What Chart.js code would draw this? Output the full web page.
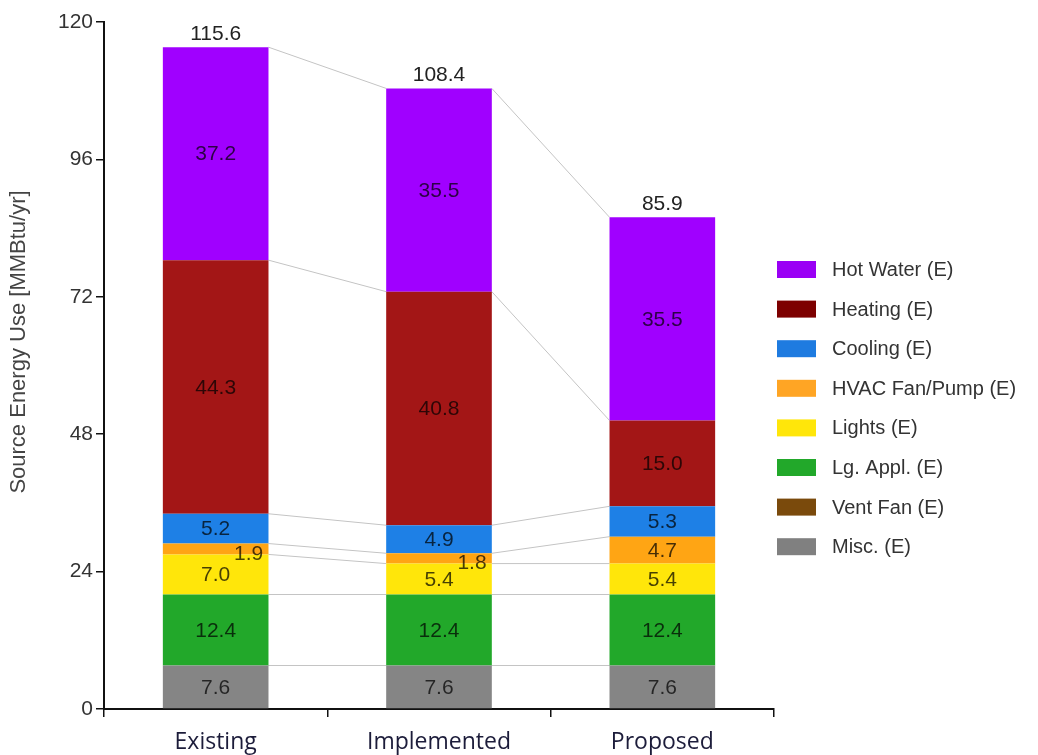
<!DOCTYPE html>
<html><head><meta charset="utf-8">
<script src="https://cdn.jsdelivr.net/npm/chart.js@4.4.1/dist/chart.umd.min.js"></script>
<style>html,body{margin:0;padding:0;background:#fff;overflow:hidden}#wrap{width:1038px;height:755px}</style>
</head><body><div id="wrap"><canvas id="c" width="1038" height="755"></canvas></div>
<script>
const categories = ['Existing', 'Implemented', 'Proposed'];
const seriesNames = ['Misc. (E)', 'Vent Fan (E)', 'Lg. Appl. (E)', 'Lights (E)', 'HVAC Fan/Pump (E)', 'Cooling (E)', 'Heating (E)', 'Hot Water (E)'];
const misc = [7.6, 7.6, 7.6];
const ventFan = [0, 0, 0];
const lgAppl = [12.4, 12.4, 12.4];
const lights = [7.0, 5.4, 5.4];
const hvacFanPump = [1.9, 1.8, 4.7];
const cooling = [5.2, 4.9, 5.3];
const heating = [44.3, 40.8, 15.0];
const hotWater = [37.2, 35.5, 35.5];
const totals = [115.6, 108.4, 85.9];
const yTicks = [0, 24, 48, 72, 96, 120];
const yAxisTitle = 'Source Energy Use [MMBtu/yr]';

const seriesValues = [misc, ventFan, lgAppl, lights, hvacFanPump, cooling, heating, hotWater];
const seriesColors = ['#858585', '#7a4a0c', '#22a82a', '#ffe60a', '#ffa514', '#1e80e6', '#a31616', '#a000ff'];
const legendColors = ['#808080', '#7a4a0c', '#22a82a', '#ffe60a', '#ffa524', '#1e7be0', '#7d0000', '#9a00f5'];

const FONT = 'Liberation Sans, Arial, sans-serif';

const overlay = {
  id: 'overlay',
  beforeDatasetsDraw(chart) {
    const ctx = chart.ctx;
    ctx.save();
    ctx.strokeStyle = '#c4c4c4';
    ctx.lineWidth = 1;
    chart.data.datasets.forEach((ds, di) => {
      const meta = chart.getDatasetMeta(di);
      for (let i = 0; i < meta.data.length - 1; i++) {
        const a = meta.data[i], b = meta.data[i + 1];
        ctx.beginPath();
        ctx.moveTo(a.x + a.width / 2, a.y);
        ctx.lineTo(b.x - b.width / 2, b.y);
        ctx.stroke();
      }
    });
    ctx.restore();
  },
  afterDraw(chart) {
    const ctx = chart.ctx;
    ctx.save();
    // segment labels
    ctx.font = '21px ' + FONT;
    ctx.textAlign = 'center';
    ctx.textBaseline = 'middle';
    chart.data.datasets.forEach((ds, di) => {
      const meta = chart.getDatasetMeta(di);
      meta.data.forEach((bar, i) => {
        const v = ds.data[i];
        if (!v) return;
        let x = bar.x, y = (bar.y + bar.base) / 2;
        if (Math.abs(bar.base - bar.y) < 16) { x += 33; y += 4; }
        ctx.fillStyle = 'rgba(0,0,0,0.72)';
        ctx.fillText(v.toFixed(1), x, y + 1);
      });
    });
    // totals
    const topMeta = chart.getDatasetMeta(chart.data.datasets.length - 1);
    ctx.fillStyle = '#222';
    topMeta.data.forEach((bar, i) => {
      ctx.fillText(totals[i].toFixed(1), bar.x, bar.y - 13);
    });
    // legend (reverse order)
    ctx.textAlign = 'left';
    ctx.font = '20px ' + FONT;
    const n = seriesNames.length;
    for (let k = 0; k < n; k++) {
      const si = n - 1 - k;
      const by = 261 + k * 39.6;
      ctx.fillStyle = legendColors[si];
      ctx.fillRect(777, by, 39, 17);
      ctx.fillStyle = '#333';
      ctx.fillText(seriesNames[si], 832, by + 9.5);
    }
    // y axis title
    ctx.translate(19, 342);
    ctx.rotate(-Math.PI / 2);
    ctx.textAlign = 'center';
    ctx.font = '22px ' + FONT;
    ctx.fillStyle = '#444';
    ctx.fillText(yAxisTitle, 0, 0);
    ctx.restore();
  }
};

new Chart(document.getElementById('c'), {
  type: 'bar',
  data: {
    labels: categories,
    datasets: seriesNames.map((name, i) => ({
      label: name,
      data: seriesValues[i],
      backgroundColor: seriesColors[i],
      borderWidth: 0,
      barPercentage: 0.473,
      categoryPercentage: 1,
      stack: 's'
    }))
  },
  options: {
    responsive: false,
    animation: false,
    devicePixelRatio: 1,
    layout: { padding: { left: 0, right: 264, top: 22, bottom: 0 } },
    plugins: { legend: { display: false }, tooltip: { enabled: false } },
    scales: {
      x: {
        stacked: true,
        afterFit: s => { s.height = 46; },
        grid: { display: true, drawOnChartArea: false, drawTicks: true, tickLength: 8, color: '#111', lineWidth: 1.5, offset: true },
        border: { display: true, color: '#111', width: 2 },
        ticks: { font: { family: 'Open Sans', size: 23 }, color: '#1c1c3a', padding: 12 }
      },
      y: {
        stacked: true,
        min: 0, max: 120,
        afterFit: s => { s.width = 104; },
        afterBuildTicks: s => { s.ticks = yTicks.map(v => ({ value: v })); },
        grid: { display: true, drawOnChartArea: false, drawTicks: true, tickLength: 8, color: '#111', lineWidth: 1.5 },
        border: { display: true, color: '#111', width: 2 },
        ticks: { font: { family: 'Liberation Sans', size: 21 }, color: '#333', padding: 3 }
      }
    }
  },
  plugins: [overlay]
});
</script></body></html>
